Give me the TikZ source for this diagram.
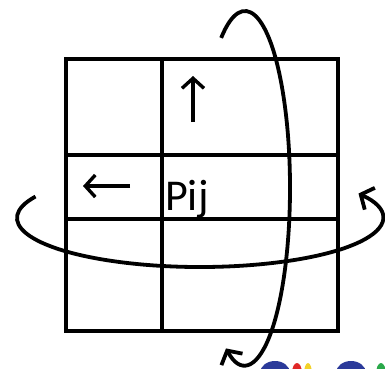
\documentclass[tikz,border=0pt]{standalone}
\usepackage{fontspec}
\setmainfont{Carlito}
\usetikzlibrary{arrows.meta}
\definecolor{logoBlue}{HTML}{2B3A9A}
\definecolor{logoRed}{HTML}{E02828}
\definecolor{logoYellow}{HTML}{F2D22A}
\definecolor{logoGreen}{HTML}{2AA84A}

\begin{document}
\begin{tikzpicture}[x=1pt, y=-1pt,
      cell/.style={line width=4.4pt, line cap=rect},
      hint/.style={-{Straight Barb[length=10pt, width=22pt, line width=3.4pt]}, line width=3.4pt},
      spin/.style={-{Straight Barb[length=10pt, width=24pt, line width=3.8pt]}, line width=3.8pt},
      lbl/.style={inner sep=0pt, anchor=base west, font=\fontsize{44}{50}\selectfont}]
    \useasboundingbox (0,0) rectangle (385,368);
    % grid: two columns, three rows
    \draw[cell] (66,59) rectangle (338,331);
    \draw[cell] (162,59) -- (162,331);
    \draw[cell] (66,155) -- (338,155);
    \draw[cell] (66,219) -- (338,219);
    % neighbour hints
    \coordinate (up0) at (193,122);
    \coordinate (up1) at (193,76);
    \draw[hint] (up0) -- (up1);
    \coordinate (lf0) at (130,186);
    \coordinate (lf1) at (83,186);
    \draw[hint] (lf0) -- (lf1);
    % the cell itself
    \node[lbl] (pij) at (165,210) {Pij};
    % periodic wrap: around the rows
    \coordinate (hc) at (200,218);
    \draw[spin] (hc) ++(-154:183 and 49)
      arc[start angle=-154, end angle=-390, x radius=183, y radius=49];
    % periodic wrap: around the columns
    \coordinate (vc) at (245,188);
    \draw[spin] (vc) ++(-122:45 and 177)
      arc[start angle=-122, end angle=115, x radius=45, y radius=177];
    % logo, cut off at the bottom edge
    \begin{scope}
      \clip (240,356) rectangle (385,368);
      \fill[logoBlue] (275,373) ellipse[x radius=15, y radius=12];
      \fill[logoRed] (297,373) ellipse[x radius=5, y radius=10];
      \fill[logoYellow] (308,374) ellipse[x radius=4, y radius=11];
      \fill[logoBlue] (351,373) ellipse[x radius=15, y radius=12];
      \fill[logoGreen] (381,374) ellipse[x radius=5, y radius=11];
    \end{scope}
  \end{tikzpicture}
\end{document}
